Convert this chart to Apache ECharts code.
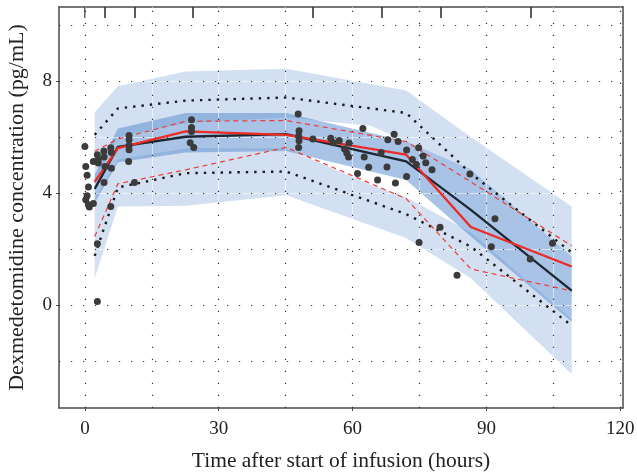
<!DOCTYPE html>
<html>
<head>
<meta charset="utf-8">
<script src="https://cdn.jsdelivr.net/npm/echarts@6/dist/echarts.min.js"></script>
<style>
  html, body { margin: 0; padding: 0; background: #fff; }
  #chart { width: 637px; height: 472px; }
</style>
</head>
<body>
<div id="chart"></div>
<script>
// bin midpoints (hours)
const binX = [2.2, 7.4, 22.6, 45.1, 72.0, 86.5, 109.1];

// observed percentiles (red)
const obsMedian = [4.40, 5.60, 6.20, 6.08, 5.37, 2.79, 1.38];
const obsP95 = [5.49, 5.93, 6.56, 6.59, 5.84, 4.40, 2.12];
const obsP5 = [2.45, 4.33, 4.83, 5.63, 3.80, 1.29, 0.51];

// predicted percentiles (black)
const predMedian = [4.15, 5.65, 6.01, 6.10, 5.13, 3.40, 0.52];
const predP95 = [6.08, 7.02, 7.30, 7.41, 6.86, 4.70, 1.88];
const predP5 = [1.76, 4.20, 4.71, 4.77, 3.25, 2.09, -0.73];

// confidence bands [hours, conc]
const upperTop = [[2.2, 6.88], [7.4, 7.81], [22.6, 8.34], [45.1, 8.44], [72.0, 7.66], [86.5, 6.0], [109.1, 3.52]];
const upperBottom = [[2.2, 4.4], [7.4, 6.0], [22.6, 6.5], [45.1, 6.7], [64.0, 6.4], [72.0, 5.85], [86.5, 4.85], [109.1, 1.74]];
const lowerTop = [[2.2, 3.8], [7.4, 5.2], [22.6, 5.6], [45.1, 5.6], [64.0, 4.3], [72.0, 3.85], [86.5, 2.6], [109.1, -0.5]];
const lowerBottom = [[2.2, 0.96], [7.4, 3.52], [22.6, 3.55], [45.1, 3.92], [72.0, 2.4], [86.5, 0.96], [109.1, -2.46]];
const medTop = [[2.2, 4.65], [7.4, 6.3], [22.6, 6.86], [45.1, 6.86], [72.0, 5.85], [86.5, 4.85], [109.1, 1.74]];
const medBottom = [[2.2, 3.65], [7.4, 5.1], [22.6, 5.45], [45.1, 5.5], [72.0, 4.47], [86.5, 2.45], [109.1, -0.59]];

// observations
const observed = [
  [0.0, 5.66], [0.2, 4.95], [0.5, 4.64], [0.8, 4.22], [0.2, 3.76], [0.5, 3.9], [1.0, 3.5], [0.8, 3.58],
  [1.9, 3.63], [1.9, 5.13], [2.8, 5.37], [3.0, 5.07], [3.0, 5.2], [2.8, 2.19], [2.8, 0.13],
  [4.25, 5.5], [4.3, 5.29], [4.5, 4.95], [4.3, 4.38], [5.8, 5.62], [5.95, 5.45], [5.95, 4.89], [5.8, 3.52],
  [9.9, 6.05], [9.9, 5.9], [9.9, 5.7], [9.9, 5.55], [9.8, 5.13], [11.1, 4.38],
  [23.9, 6.62], [23.9, 6.34], [23.9, 6.2], [23.6, 5.8], [24.4, 5.63],
  [47.8, 6.82], [48.0, 6.22], [47.9, 6.04], [48.0, 5.87], [47.9, 5.63], [51.1, 5.93],
  [55.1, 5.96], [55.7, 5.8], [57.0, 5.88], [58.2, 5.57], [58.7, 5.43], [59.1, 5.29], [59.2, 5.79],
  [61.1, 4.7], [62.3, 6.3], [62.6, 5.29], [63.6, 4.92],
  [65.6, 4.47], [66.4, 5.45], [67.7, 4.93], [67.9, 5.9], [69.3, 6.1], [69.6, 4.36], [70.2, 5.84],
  [72.1, 5.54], [72.1, 4.59], [73.4, 5.2], [74.3, 5.02], [74.8, 5.62], [75.8, 5.32], [76.4, 5.08], [77.8, 4.83],
  [74.9, 2.24], [79.6, 2.78], [83.4, 1.07], [86.3, 4.68], [91.1, 2.08], [91.9, 3.08], [99.8, 1.65], [104.8, 2.21]
];

// ticks / grid
const xLabels = [0, 30, 60, 90, 120];
const yLabels = [0, 4, 8];
const gridX = [0, 15, 30, 45, 60, 75, 90, 105, 120];
const gridY = [-2, 0, 2, 4, 6, 8, 10];
const binEdges = [0, 4.48, 11.2, 24.26, 51.14, 66.53, 79.67, 99.96];

const X_MIN = -5.8, X_MAX = 120.6, Y_MIN = -3.67, Y_MAX = 10.64;
const FONT = 'Liberation Serif';

const chart = echarts.init(document.getElementById('chart'));

function band(top, bottom, fill, z) {
  return {
    type: 'custom',
    z: z,
    silent: true,
    data: top,
    encode: { x: 0, y: 1 },
    renderItem: function (params, api) {
      if (params.dataIndex !== 0) return null;
      const pts = top.map(p => api.coord(p))
        .concat(bottom.slice().reverse().map(p => api.coord(p)));
      return { type: 'polygon', shape: { points: pts }, style: { fill: fill } };
    }
  };
}

function pairs(vals) {
  return binX.map((x, i) => [x, vals[i]]);
}

function line(vals, color, width, type, z) {
  return {
    type: 'line',
    data: pairs(vals),
    z: z,
    silent: true,
    showSymbol: false,
    symbol: 'none',
    lineStyle: { color: color, width: width, type: type, cap: 'butt' }
  };
}

function gridMarks(style, z) {
  return {
    type: 'line',
    data: [],
    z: z,
    silent: true,
    markLine: {
      silent: true,
      symbol: 'none',
      animation: false,
      label: { show: false },
      lineStyle: style,
      data: gridX.map(v => ({ xAxis: v })).concat(gridY.map(v => ({ yAxis: v })))
    }
  };
}

const frame = { show: true, onZero: false, lineStyle: { color: '#4a4a4a', width: 1.5 } };

const option = {
  animation: false,
  grid: { left: 59, right: 14, top: 7, bottom: 64, containLabel: false, outerBoundsMode: 'none' },
  xAxis: [{
    type: 'value', min: X_MIN, max: X_MAX, position: 'bottom',
    name: 'Time after start of infusion (hours)',
    nameLocation: 'middle', nameGap: 42,
    nameTextStyle: { fontFamily: FONT, fontSize: 21.5, color: '#222' },
    axisLine: frame,
    axisTick: { show: true, customValues: xLabels, length: 3, lineStyle: { color: '#4a4a4a' } },
    axisLabel: { customValues: xLabels, fontFamily: FONT, fontSize: 19, color: '#222', margin: 12 },
    splitLine: { show: false }
  }, {
    type: 'value', min: X_MIN, max: X_MAX, position: 'top',
    axisLine: frame,
    axisTick: { show: true, inside: true, customValues: binEdges, length: 11, lineStyle: { color: '#333', width: 1.6 } },
    axisLabel: { show: false },
    splitLine: { show: false }
  }],
  yAxis: [{
    type: 'value', min: Y_MIN, max: Y_MAX, position: 'left',
    name: 'Dexmedetomidine concentration (pg/mL)',
    nameLocation: 'middle', nameGap: 31,
    nameTextStyle: { fontFamily: FONT, fontSize: 22, color: '#222' },
    axisLine: frame,
    axisTick: { show: true, customValues: yLabels, length: 3, lineStyle: { color: '#4a4a4a' } },
    axisLabel: { customValues: yLabels, fontFamily: FONT, fontSize: 19, color: '#222', margin: 7 },
    splitLine: { show: false }
  }, {
    type: 'value', min: Y_MIN, max: Y_MAX, position: 'right',
    axisLine: frame,
    axisTick: { show: false },
    axisLabel: { show: false },
    splitLine: { show: false }
  }],
  series: [
    band(upperTop, upperBottom, '#d3e0f1', 1),
    band(lowerTop, lowerBottom, '#d3e0f1', 1),
    band(medTop, medBottom, 'rgba(83,135,205,0.5)', 2),
    gridMarks({ color: 'rgba(255,255,255,0.55)', width: 1, type: 'solid' }, 3),
    gridMarks({ color: '#333', width: 1.2, type: [1.2, 10.8] }, 4),
    line(predP95, '#1a1a1a', 2.4, [2.4, 6], 5),
    line(predP5, '#1a1a1a', 2.4, [2.4, 6], 5),
    line(obsP95, '#ee3b36', 1.2, [5, 4], 6),
    line(obsP5, '#ee3b36', 1.2, [5, 4], 6),
    line(predMedian, '#1d2732', 2.3, 'solid', 7),
    line(obsMedian, '#ee2a24', 2.3, 'solid', 8),
    {
      type: 'scatter',
      data: observed,
      z: 9,
      silent: true,
      symbol: 'circle',
      symbolSize: 7,
      itemStyle: { color: '#3b3b3b', opacity: 1 }
    }
  ]
};

chart.setOption(option);
</script>
</body>
</html>
